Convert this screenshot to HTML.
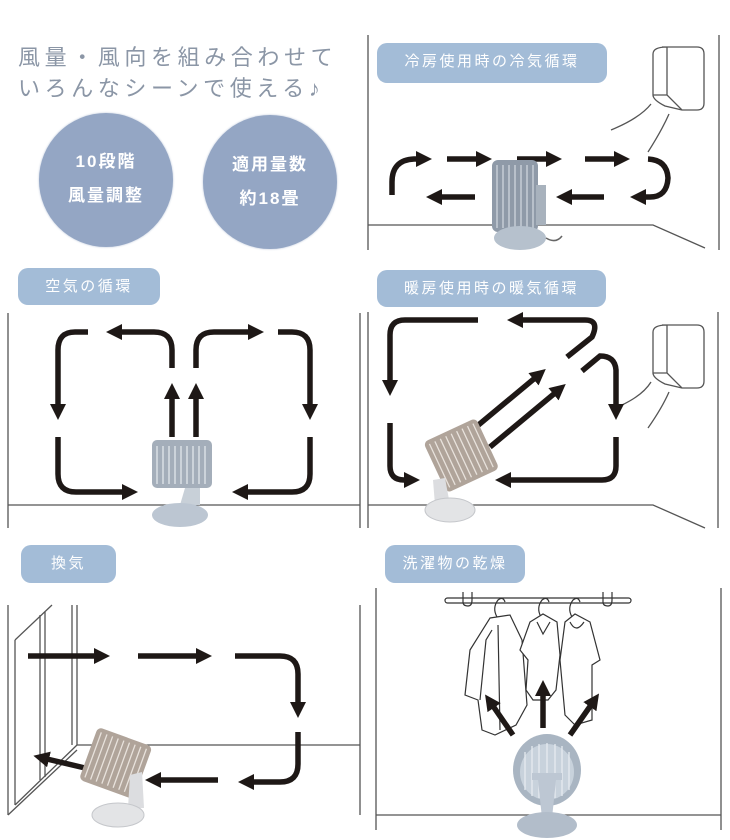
<!DOCTYPE html>
<html><head><meta charset="utf-8">
<style>
html,body{margin:0;padding:0;background:#fff;}
body{width:730px;height:840px;overflow:hidden;position:relative;font-family:"Liberation Sans","Noto Sans CJK JP",sans-serif;}
.t{position:absolute;left:18px;color:#8b96a6;font-size:22px;letter-spacing:4.6px;white-space:nowrap;}
.c{position:absolute;border-radius:50%;background:#94a6c4;color:#fff;font-weight:bold;font-size:17px;letter-spacing:2px;text-align:center;line-height:34px;box-shadow:0 0 2px #b8c4d8;}
.p{position:absolute;background:#a3bcd7;border-radius:10px;color:#fff;font-size:15px;letter-spacing:2.5px;text-align:center;line-height:38px;}
svg{position:absolute;left:0;top:0;}
</style></head><body>
<svg width="730" height="840" viewBox="0 0 730 840">
<defs>
<marker id="a" markerUnits="userSpaceOnUse" markerWidth="20" markerHeight="20" refX="2" refY="8" orient="auto">
<path d="M0,0 L16,8 L0,16 Z" fill="#1e1816"/>
</marker>
</defs>
<g stroke="#555" stroke-width="1.3" fill="none">
<line x1="368" y1="35" x2="368" y2="250"/><line x1="719" y1="35" x2="719" y2="250"/>
<polyline points="368,225 653,225 705,248"/>
<path d="M662,47 H697 Q704,47 704,54 V103 Q704,110 697,110 H682 L667,95 V47 Q653,47 653,54 V95 L667,95 M653,95 Q653,100 665,106 L682,110"/>
<path d="M611,130 Q640,118 651,104"/><path d="M648,152 Q662,130 669,114"/>
<line x1="8" y1="313" x2="8" y2="528"/><line x1="360" y1="313" x2="360" y2="528"/>
<line x1="8" y1="505" x2="360" y2="505"/>
<line x1="368" y1="312" x2="368" y2="528"/><line x1="718" y1="312" x2="718" y2="528"/>
<polyline points="368,505 653,505 705,528"/>
<path d="M662,325 H697 Q704,325 704,332 V381 Q704,388 697,388 H682 L667,373 V325 Q653,325 653,332 V373 L667,373 M653,373 Q653,378 665,384 L682,388"/>
<path d="M622,405 Q643,395 651,382"/><path d="M648,428 Q662,408 669,392"/>
<line x1="8" y1="605" x2="8" y2="815"/><line x1="360" y1="605" x2="360" y2="815"/>
<line x1="72" y1="605" x2="72" y2="745"/><line x1="77" y1="605" x2="77" y2="745"/>
<line x1="77" y1="745" x2="360" y2="745"/>
<line x1="40" y1="615" x2="40" y2="780"/><line x1="45" y1="612" x2="45" y2="777"/>
<line x1="15" y1="640" x2="15" y2="805"/><line x1="15" y1="640" x2="52" y2="605"/>
<line x1="15" y1="805" x2="77" y2="745"/><line x1="8" y1="815" x2="77" y2="750"/>
<line x1="376" y1="588" x2="376" y2="830"/><line x1="721" y1="588" x2="721" y2="830"/>
<line x1="376" y1="815" x2="721" y2="815"/>
</g>
<g stroke="#333" stroke-width="1.2" fill="#fff">
<rect x="445" y="598" width="186" height="5" rx="2.5" fill="#fff"/>
<path d="M463,592 V602 Q463,606 468,606 Q472,606 472,600 V592" fill="none"/>
<path d="M603,592 V602 Q603,606 608,606 Q612,606 612,600 V592" fill="none"/>
<path d="M497,617 Q492,608 498,600 Q503,596 505,602" fill="none"/>
<path d="M541,617 Q536,608 542,600 Q547,596 549,602" fill="none"/>
<path d="M572,617 Q567,608 573,600 Q578,596 580,602" fill="none"/>
<path d="M490,618 L510,615 L522,640 L527,705 L516,725 L495,735 L482,730 L478,700 L465,695 L470,650 Z"/>
<path d="M498,625 L500,730 M492,630 L486,640 L480,700"/>
<path d="M530,622 L543,614 L557,622 L560,655 L556,690 L548,700 L533,700 L526,690 L528,660 L520,650 Z"/>
<path d="M537,622 L543,634 L550,622"/>
<path d="M565,622 L575,614 L590,622 L600,660 L592,665 L592,720 L575,725 L565,715 L560,660 Z"/>
<path d="M570,622 Q576,634 584,622"/>
</g>
<g stroke="#1e1816" stroke-width="5.5" fill="none" marker-end="url(#a)">
<path d="M392,195 V182 Q392,160 414,159 L418,159"/>
<line x1="447" y1="159" x2="478" y2="159"/>
<line x1="517" y1="159" x2="548" y2="159"/>
<line x1="585" y1="159" x2="616" y2="159"/>
<path d="M648,159 Q667,160 668,178 Q667,197 650,197 L644,197"/>
<line x1="475" y1="197" x2="440" y2="197"/>
<line x1="604" y1="197" x2="570" y2="197"/>
<path d="M88,332 H75 Q58,332 58,350 V406"/>
<path d="M58,437 V474 Q58,492 76,492 H124"/>
<path d="M172,368 V350 Q172,332 154,332 H120"/>
<path d="M196,368 V350 Q196,332 214,332 H250"/>
<path d="M278,332 H292 Q310,332 310,350 V406"/>
<path d="M310,437 V474 Q310,492 292,492 H246"/>
<line x1="172" y1="437" x2="172" y2="397"/>
<line x1="196" y1="437" x2="196" y2="397"/>
<path d="M478,320 H405 Q390,320 390,335 V382"/>
<path d="M390,423 V466 Q390,480 404,480 H406"/>
<path d="M567,357 L592,337 Q600,320 585,320 H521"/>
<path d="M582,371 L600,356 Q615,356 616,370 V406"/>
<path d="M616,437 V466 Q616,480 602,480 H509"/>
<line x1="470" y1="432" x2="535" y2="378"/>
<line x1="490" y1="447" x2="555" y2="393"/>
<line x1="28" y1="656" x2="96" y2="656"/>
<line x1="138" y1="656" x2="198" y2="656"/>
<path d="M235,656 H280 Q298,656 298,674 V704"/>
<path d="M298,732 V764 Q298,782 280,782 H252"/>
<line x1="218" y1="780" x2="159" y2="780"/>
<line x1="85" y1="768" x2="47" y2="759"/>
<line x1="513" y1="735" x2="493" y2="706"/>
<line x1="543" y1="728" x2="543" y2="694"/>
<line x1="570" y1="735" x2="591" y2="705"/>
</g>
<g>
<rect x="492" y="160" width="46" height="72" rx="6" fill="#8f9aa8"/>
<g stroke="#c5cdd6" stroke-width="1.5">
<line x1="497" y1="165" x2="497" y2="228"/><line x1="503" y1="165" x2="503" y2="228"/><line x1="509" y1="165" x2="509" y2="228"/><line x1="515" y1="165" x2="515" y2="228"/><line x1="521" y1="165" x2="521" y2="228"/><line x1="527" y1="165" x2="527" y2="228"/><line x1="533" y1="165" x2="533" y2="228"/>
</g>
<rect x="536" y="185" width="10" height="40" fill="#a8b2bd"/>
<ellipse cx="520" cy="238" rx="26" ry="12" fill="#b6c1cd"/>
<path d="M546,238 Q556,244 562,236" stroke="#666" stroke-width="1.5" fill="none"/>
</g>
<g>
<rect x="152" y="440" width="60" height="48" rx="5" fill="#a4aeba"/>
<g stroke="#e2e7ec" stroke-width="1.3">
<line x1="157" y1="446" x2="157" y2="484"/><line x1="163" y1="446" x2="163" y2="484"/><line x1="169" y1="446" x2="169" y2="484"/><line x1="175" y1="446" x2="175" y2="484"/><line x1="181" y1="446" x2="181" y2="484"/><line x1="187" y1="446" x2="187" y2="484"/><line x1="193" y1="446" x2="193" y2="484"/><line x1="199" y1="446" x2="199" y2="484"/><line x1="205" y1="446" x2="205" y2="484"/>
</g>
<path d="M185,488 H200 V505 H180 Z" fill="#c8d0d8"/>
<ellipse cx="180" cy="515" rx="28" ry="12" fill="#bcc6d2"/>
</g>
<g transform="rotate(-25 460 455)">
<rect x="432" y="428" width="58" height="56" rx="5" fill="#b0a49a"/>
<g stroke="#e8e2dc" stroke-width="1.3">
<line x1="437" y1="432" x2="437" y2="480"/><line x1="443" y1="432" x2="443" y2="480"/><line x1="449" y1="432" x2="449" y2="480"/><line x1="455" y1="432" x2="455" y2="480"/><line x1="461" y1="432" x2="461" y2="480"/><line x1="467" y1="432" x2="467" y2="480"/><line x1="473" y1="432" x2="473" y2="480"/><line x1="479" y1="432" x2="479" y2="480"/><line x1="485" y1="432" x2="485" y2="480"/>
</g>
</g>
<path d="M433,480 L445,478 L450,505 L435,505 Z" fill="#dcdde0"/>
<ellipse cx="450" cy="510" rx="25" ry="12" fill="#e3e4e6" stroke="#c5c7cb"/>
<g transform="rotate(20 115 765)">
<rect x="86" y="735" width="58" height="56" rx="5" fill="#b0a49a"/>
<g stroke="#e8e2dc" stroke-width="1.3">
<line x1="91" y1="739" x2="91" y2="787"/><line x1="97" y1="739" x2="97" y2="787"/><line x1="103" y1="739" x2="103" y2="787"/><line x1="109" y1="739" x2="109" y2="787"/><line x1="115" y1="739" x2="115" y2="787"/><line x1="121" y1="739" x2="121" y2="787"/><line x1="127" y1="739" x2="127" y2="787"/><line x1="133" y1="739" x2="133" y2="787"/><line x1="139" y1="739" x2="139" y2="787"/>
</g>
</g>
<path d="M130,775 L142,772 L144,808 L128,808 Z" fill="#dcdde0"/>
<ellipse cx="118" cy="815" rx="26" ry="12" fill="#e3e4e6" stroke="#c5c7cb"/>
<g>
<ellipse cx="547" cy="770" rx="34" ry="36" fill="#a9b5c2"/>
<ellipse cx="547" cy="772" rx="27" ry="28" fill="#c8d2dc"/>
<g stroke="#e6ebf0" stroke-width="1.3">
<line x1="525" y1="752" x2="525" y2="790"/><line x1="532" y1="746" x2="532" y2="796"/><line x1="539" y1="744" x2="539" y2="798"/><line x1="547" y1="743" x2="547" y2="799"/><line x1="555" y1="744" x2="555" y2="798"/><line x1="562" y1="746" x2="562" y2="796"/><line x1="569" y1="752" x2="569" y2="790"/>
</g>
<path d="M532,773 H562 V780 H556 L552,818 H542 L538,780 H532 Z" fill="#bdc7d3"/>
<ellipse cx="547" cy="825" rx="30" ry="13" fill="#b2bdca"/>
</g>
</svg>
<div class="t" style="top:40px;">風量・風向を組み合わせて</div>
<div class="t" style="top:71px;">いろんなシーンで使える♪</div>
<div class="c" style="left:39px;top:113px;width:134px;height:134px;padding-top:32px;box-sizing:border-box;">10段階<br>風量調整</div>
<div class="c" style="left:203px;top:115px;width:134px;height:134px;padding-top:33px;box-sizing:border-box;">適用量数<br>約18畳</div>
<div class="p" style="left:377px;top:43px;width:230px;height:40px;">冷房使用時の冷気循環</div>
<div class="p" style="left:18px;top:268px;width:142px;height:37px;">空気の循環</div>
<div class="p" style="left:377px;top:270px;width:229px;height:37px;">暖房使用時の暖気循環</div>
<div class="p" style="left:21px;top:545px;width:95px;height:38px;">換気</div>
<div class="p" style="left:385px;top:545px;width:140px;height:38px;">洗濯物の乾燥</div>
</body></html>
